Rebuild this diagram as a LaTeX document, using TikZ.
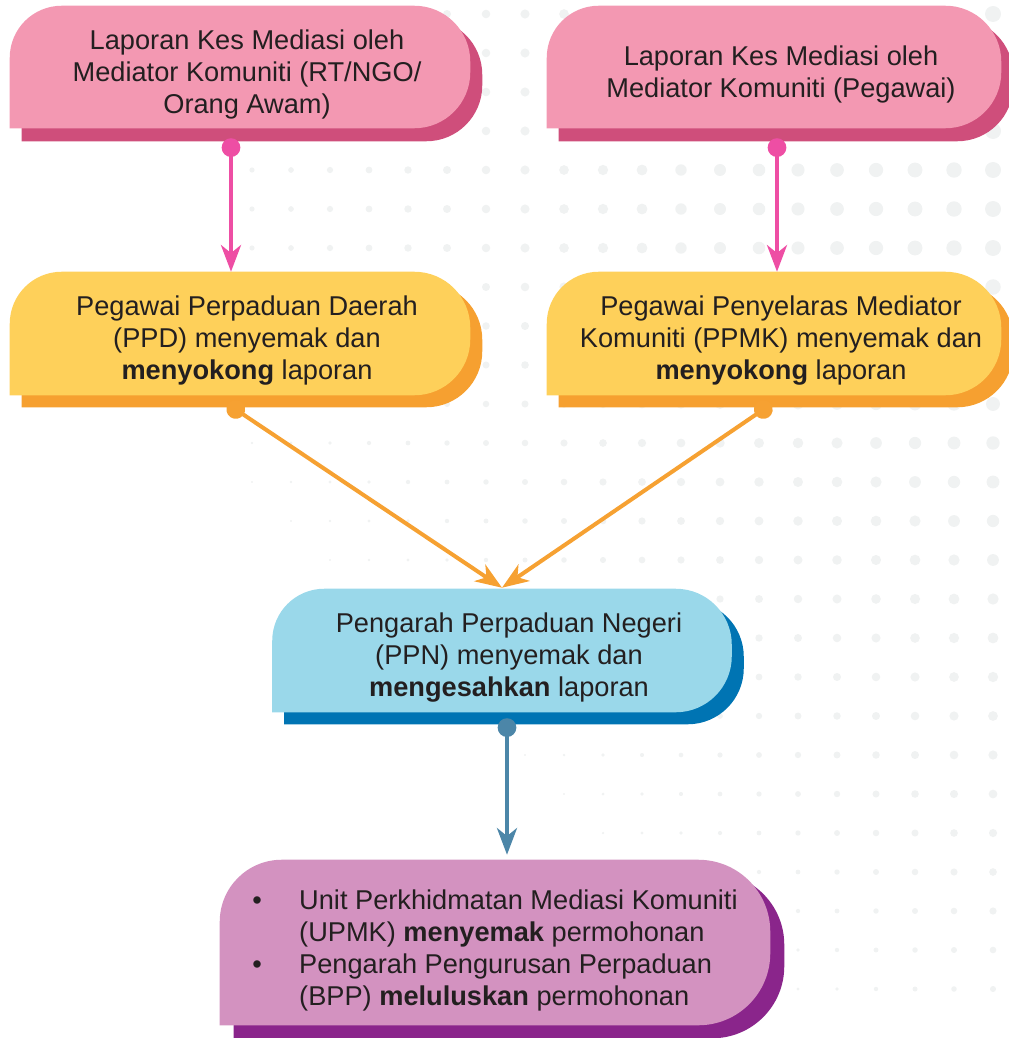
\documentclass[tikz,border=0pt]{standalone}
\usepackage{fontspec}
\setmainfont{Liberation Sans}
\usetikzlibrary{arrows.meta,backgrounds}

\definecolor{pinkface}{RGB}{243,152,178}
\definecolor{pinkshade}{RGB}{207,78,123}
\definecolor{pinkline}{RGB}{238,78,164}
\definecolor{yellowface}{RGB}{254,208,90}
\definecolor{yellowshade}{RGB}{246,160,48}
\definecolor{yellowline}{RGB}{246,161,50}
\definecolor{blueface}{RGB}{154,216,234}
\definecolor{blueshade}{RGB}{0,116,179}
\definecolor{blueline}{RGB}{76,134,168}
\definecolor{purpleface}{RGB}{211,146,192}
\definecolor{purpleshade}{RGB}{138,37,139}
\definecolor{textdark}{RGB}{35,31,32}
\definecolor{dotgray}{RGB}{240,242,242}

\newcommand{\px}{0.75pt}
% box outline: square bottom left, rounded top left, round right end
\newcommand{\blob}[5]{%
  \fill[#3] ([shift={#2}]#1.south west)
    -- ([shift={#2},shift={(0,-#4)}]#1.north west)
    arc[start angle=180,end angle=90,radius=#4]
    -- ([shift={#2},shift={(-#5,0)}]#1.north east)
    arc[start angle=90,end angle=0,radius=#5]
    -- ([shift={#2},shift={(0,#5)}]#1.south east)
    arc[start angle=0,end angle=-90,radius=#5]
    -- cycle;}

\tikzset{
  flowbox/.style={inner sep=0pt, minimum height=122*\px, align=center,
    text=textdark, font=\fontsize{20.4}{24}\selectfont},
  link/.style={line width=3pt,
    arrows={Circle[length=14pt]-Stealth[length=20pt,width=15pt,inset=6pt]}}
}

\begin{document}
\begin{tikzpicture}[x=0.75pt,y=0.75pt]
\path[use as bounding box] (0,0) rectangle (1009,-1038);

\node[flowbox,minimum width=460*\px] (pinkL) at (247,-74)
  {Laporan Kes Mediasi oleh\\Mediator Komuniti (RT/NGO/\\Orang Awam)};
\node[flowbox,minimum width=454*\px] (pinkR) at (781,-74)
  {Laporan Kes Mediasi oleh\\Mediator Komuniti (Pegawai)};
\node[flowbox,minimum width=460*\px,minimum height=123*\px] (yellowL) at (247,-340.5)
  {Pegawai Perpaduan Daerah\\(PPD) menyemak dan\\\textbf{menyokong} laporan};
\node[flowbox,minimum width=454*\px,minimum height=123*\px] (yellowR) at (781,-340.5)
  {Pegawai Penyelaras Mediator\\Komuniti (PPMK) menyemak dan\\\textbf{menyokong} laporan};
\node[flowbox,minimum width=459*\px,minimum height=123*\px] (blue) at (509,-657.5)
  {Pengarah Perpaduan Negeri\\(PPN) menyemak dan\\\textbf{mengesahkan} laporan};
\node[flowbox,minimum width=550*\px,minimum height=165*\px] (purple) at (495,-951.5)
  {\begin{tabular}{@{}l@{\hspace{28pt}}l@{}}
   \textbullet & Unit Perkhidmatan Mediasi Komuniti\\
               & (UPMK) \textbf{menyemak} permohonan\\
   \textbullet & Pengarah Pengurusan Perpaduan\\
               & (BPP) \textbf{meluluskan} permohonan
   \end{tabular}};

\begin{scope}[on background layer]
\foreach \i in {0,...,19}
  \foreach \j in {0,...,25} {
    \pgfmathsetmacro{\dx}{252+39*\i}
    \pgfmathsetmacro{\dy}{14+39*\j}
    \pgfmathsetmacro{\dr}{4+4*(\dx-447)/546-5*max(0,\dy-250)/750}
    \ifdim\dr pt>1pt \fill[dotgray] (\dx,-\dy) circle[radius=\dr]; \fi
  }
\blob{pinkL}{(5,-6)}{pinkshade}{52}{56}
\blob{pinkL}{(-7,7)}{pinkface}{52}{56}
\blob{pinkR}{(5,-6)}{pinkshade}{52}{56}
\blob{pinkR}{(-7,7)}{pinkface}{52}{56}
\blob{yellowL}{(5,-5)}{yellowshade}{52}{56}
\blob{yellowL}{(-7,7)}{yellowface}{52}{56}
\blob{yellowR}{(5,-5)}{yellowshade}{52}{56}
\blob{yellowR}{(-7,7)}{yellowface}{52}{56}
\blob{blue}{(5,-5)}{blueshade}{52}{56}
\blob{blue}{(-7,7)}{blueface}{52}{56}
\blob{purple}{(14,-4)}{purpleshade}{62}{72}
\blob{purple}{(0,9)}{purpleface}{62}{72}
\end{scope}

\coordinate (meet) at ([shift={(-7,8)}]blue.north);
\draw[link,pinkline] ([shift={(-16,-3)}]pinkL.south) -- ([shift={(-16,7)}]yellowL.north);
\draw[link,pinkline] ([shift={(-4,-3)}]pinkR.south) -- ([shift={(-4,7)}]yellowR.north);
\draw[link,yellowline] ([shift={(-19,-2)}]yellowL.south) -- (meet);
\draw[link,yellowline] ([shift={(-10,-2)}]yellowR.south) -- (meet);
\draw[link,blueline] ([shift={(-2,1)}]blue.south) -- ([shift={(12,14)}]purple.north);
\end{tikzpicture}
\end{document}
